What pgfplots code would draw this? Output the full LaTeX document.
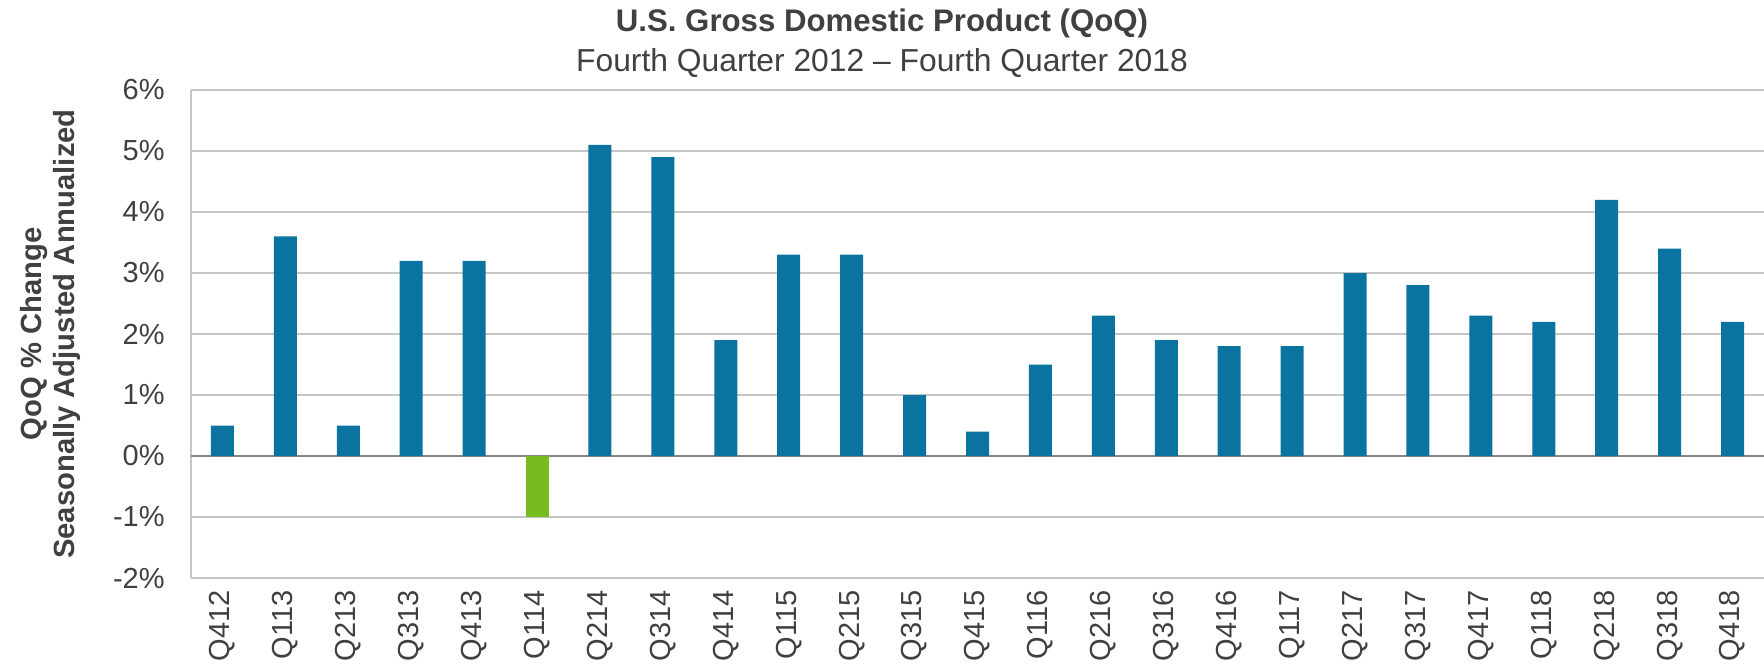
\documentclass[border=0pt]{standalone}
\usepackage{pgfplots}
\pgfplotsset{compat=1.18}
\usepackage{fontspec}
\setmainfont{Liberation Sans}
\definecolor{txt}{HTML}{404040}
\definecolor{barblue}{HTML}{0A73A0}
\definecolor{bargreen}{HTML}{76BC21}
\definecolor{gridc}{HTML}{C6C6C6}
\definecolor{zeroc}{HTML}{878787}
\begin{document}
\begin{tikzpicture}
\begin{axis}[
  scale only axis, width=786.5pt, height=244pt,
  at={(0pt,0pt)}, anchor=south west,
  xmin=-0.5, xmax=24.5, ymin=-2, ymax=6,
  ybar, bar width=11.5pt, bar shift=0pt,
  axis x line*=bottom, axis y line*=left,
  axis line style={gridc, line width=1pt, -},
  xtick={0,...,24},
  xticklabels={Q412,Q113,Q213,Q313,Q413,Q114,Q214,Q314,Q414,Q115,Q215,Q315,Q415,Q116,Q216,Q316,Q416,Q117,Q217,Q317,Q417,Q118,Q218,Q318,Q418},
  xticklabel style={rotate=90, anchor=east, inner sep=6pt},
  ytick={-2,-1,0,1,2,3,4,5,6},
  yticklabels={-2\%,-1\%,0\%,1\%,2\%,3\%,4\%,5\%,6\%},
  yticklabel style={anchor=east, inner sep=0pt, xshift=-13pt},
  major tick length=0pt,
  tick label style={font=\fontsize{14.5}{16}\selectfont, text=txt},
  ymajorgrids, grid style={gridc, line width=1pt},
  extra y ticks={0}, extra y tick labels={},
  extra y tick style={grid style={zeroc, line width=1pt}},
  ylabel={QoQ \% Change\\Seasonally Adjusted Annualized},
  ylabel style={font=\bfseries\fontsize{14.6}{16.5}\selectfont, text=txt, align=center,
    at={(axis description cs:-0.0895,0.5)}, anchor=center},
]
\addplot[fill=barblue, draw=none] coordinates {
 (0,0.5) (1,3.6) (2,0.5) (3,3.2) (4,3.2) (6,5.1) (7,4.9) (8,1.9) (9,3.3) (10,3.3)
 (11,1.0) (12,0.4) (13,1.5) (14,2.3) (15,1.9) (16,1.8) (17,1.8) (18,3.0) (19,2.8)
 (20,2.3) (21,2.2) (22,4.2) (23,3.4) (24,2.2)};
\addplot[fill=bargreen, draw=none] coordinates {(5,-1.0)};
\end{axis}
\node[anchor=base, text=txt, font=\bfseries\fontsize{15.6}{18}\selectfont] at (345.5pt,273pt) {U.S. Gross Domestic Product (QoQ)};
\node[anchor=base, text=txt, font=\fontsize{15.9}{18}\selectfont] at (345.5pt,253.5pt) {Fourth Quarter 2012 – Fourth Quarter 2018};
\pgfresetboundingbox
\useasboundingbox (-95.5pt,-44pt) rectangle (786.5pt,289pt);
\end{tikzpicture}
\end{document}
